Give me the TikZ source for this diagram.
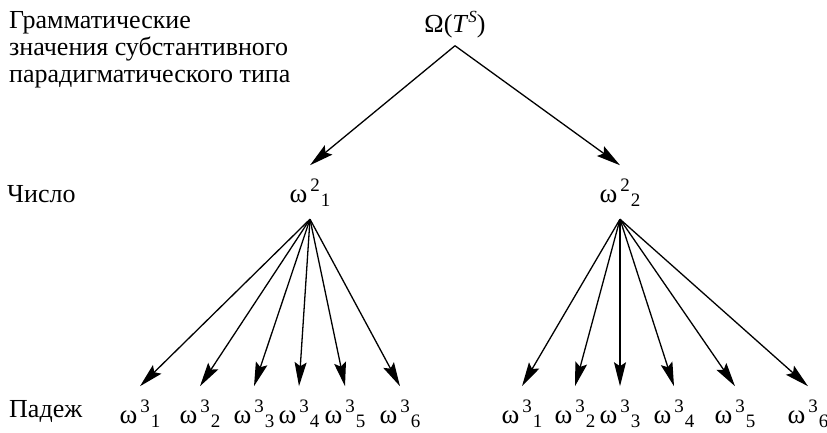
\documentclass[tikz,border=0pt]{standalone}
\usepackage{fontspec}
\setmainfont{Liberation Serif}
\usetikzlibrary{positioning,arrows.meta}

% staggered index: omega, upper index, lower index
\newcommand{\omIdx}[2]{{\fontsize{27}{27}\selectfont ω}\hspace{3pt}%
  \raisebox{11pt}{#1}\hspace{1pt}\raisebox{-4pt}{#2}}

\tikzset{
  treeLabel/.style={inner xsep=0pt, inner ysep=13pt,
    font=\fontsize{19}{19}\selectfont},
  sideLabel/.style={anchor=base west, align=left, inner sep=0pt,
    font=\fontsize{26}{27}\selectfont},
  treeArrow/.style={-{Stealth[length=24pt,width=12pt,inset=4pt]}, line width=1.3pt},
}

\begin{document}
\begin{tikzpicture}[x=1pt,y=-1pt]

\useasboundingbox (0,0) rectangle (827,432);

% --- LEVEL LABELS (left column) ---
\node[sideLabel] (hdrTop) at (9,82)
  {Грамматические\\значения субстантивного\\парадигматического типа};
\node[sideLabel] (hdrNum) at (7,202) {Число};
\node[sideLabel] (hdrCase) at (9,417) {Падеж};

% --- ROOT ---
\node[treeLabel, inner ysep=8pt, font=\fontsize{26}{26}\selectfont, anchor=base]
  (root) at (455,32) {Ω(\textit{T}\raisebox{10pt}{\fontsize{17}{17}\selectfont\textit{S}})};

% --- NUMBER LEVEL ---
\node[treeLabel, anchor=base] (num1) at (310,202) {\omIdx{2}{1}};
\node[treeLabel, anchor=base] (num2) at (620,202) {\omIdx{2}{2}};

\draw[treeArrow] (root.south) -- (num1.north);
\draw[treeArrow] (root.south) -- (num2.north);

% --- CASE LEVEL ---
% Each entry: parent / x of label / case index
\def\casedata{%
  num1/140/1, num1/200/2, num1/254/3, num1/299/4, num1/345/5, num1/400/6,
  num2/522/1, num2/575/2, num2/620/3, num2/674/4, num2/735/5, num2/808/6%
}
\foreach \parent/\xc/\k in \casedata {
  \node[treeLabel, anchor=base] (case-\parent-\k) at (\xc,423) {\omIdx{3}{\k}};
  \draw[treeArrow] (\parent.south) -- (case-\parent-\k.north);
}

\end{tikzpicture}
\end{document}
